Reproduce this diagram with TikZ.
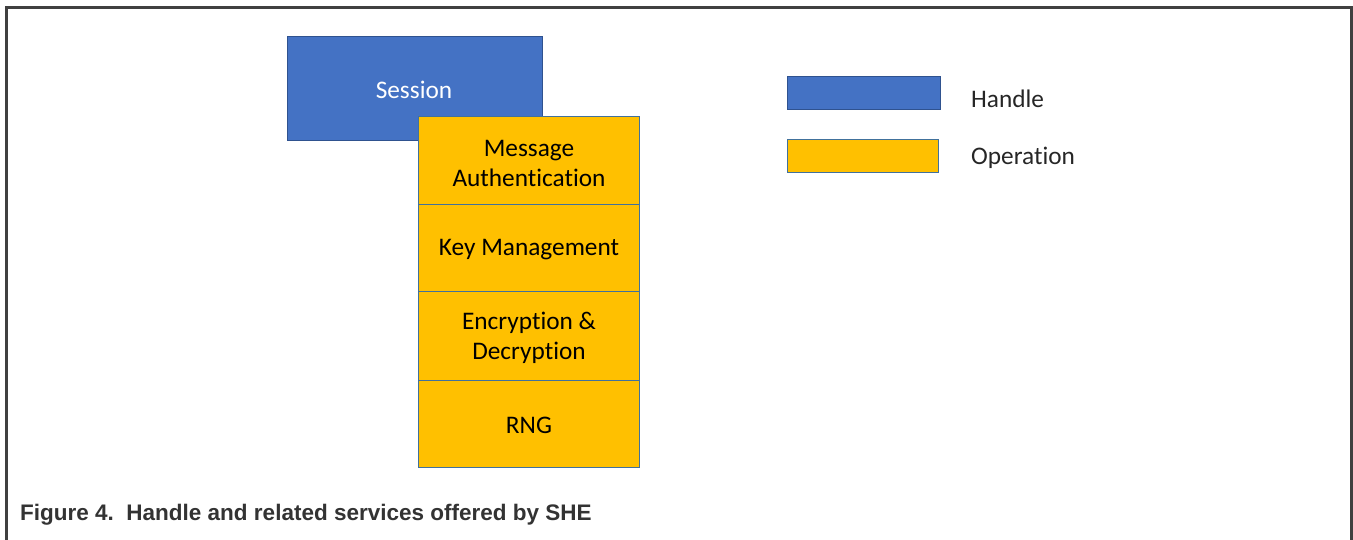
\documentclass[tikz,border=0pt]{standalone}
\usepackage{fontspec}
\setmainfont{Carlito}[Ligatures=NoCommon]
\newfontfamily\capfont{Liberation Sans}
\definecolor{handleblue}{HTML}{4472C4}
\definecolor{handleedge}{HTML}{2F528F}
\definecolor{opyellow}{HTML}{FFC000}
\definecolor{opedge}{HTML}{41719C}
\definecolor{framegray}{HTML}{404040}
\definecolor{captext}{HTML}{333333}
\tikzset{
  handlebox/.style={draw=handleedge, fill=handleblue, line width=1pt},
  opbox/.style={draw=opedge, fill=opyellow, line width=1pt},
  boxtext/.style={font=\fontsize{25.3}{30}\selectfont, align=center, inner sep=0pt},
  legendtext/.style={font=\fontsize{25.3}{30}\selectfont, anchor=west, inner sep=0pt, text=black!85}
}
\begin{document}
\begin{tikzpicture}[x=1pt,y=-1pt]
\useasboundingbox (0,0) rectangle (1353,540);
% outer frame (open at the bottom)
\draw[framegray, line width=3pt] (6.5,540) -- (6.5,7.5) -- (1351.5,7.5) -- (1351.5,540);

% handle
\draw[handlebox] (287,37) rectangle (542,141);
\node[boxtext, text=white] (session) at (414,90) {Session};

% operations stacked over the handle
\draw[opbox] (418,117) rectangle (639.5,205);
\draw[opbox] (418,205) rectangle (639.5,292);
\draw[opbox] (418,292) rectangle (639.5,380.5);
\draw[opbox] (418,380.5) rectangle (639.5,467);
\node[boxtext] (mac) at (529,163) {Message\\Authentication};
\node[boxtext] (keymgmt) at (529,250) {Key Management};
\node[boxtext] (crypt) at (529,338) {Encryption \&\\Decryption};
\node[boxtext] (rng) at (529,425) {RNG};

% legend
\draw[handlebox] (787,77) rectangle (940,110);
\node[legendtext] (lhandle) at (971,99) {Handle};
\draw[opbox] (787,140) rectangle (938,173);
\node[legendtext] (lop) at (971,158) {Operation};

% caption
\node[anchor=west, inner sep=0pt, text=captext, font=\capfont\bfseries\fontsize{22.5}{26}\selectfont] (caption) at (20,514.5) {Figure 4.\ \ Handle and related services offered by SHE};
\end{tikzpicture}
\end{document}
